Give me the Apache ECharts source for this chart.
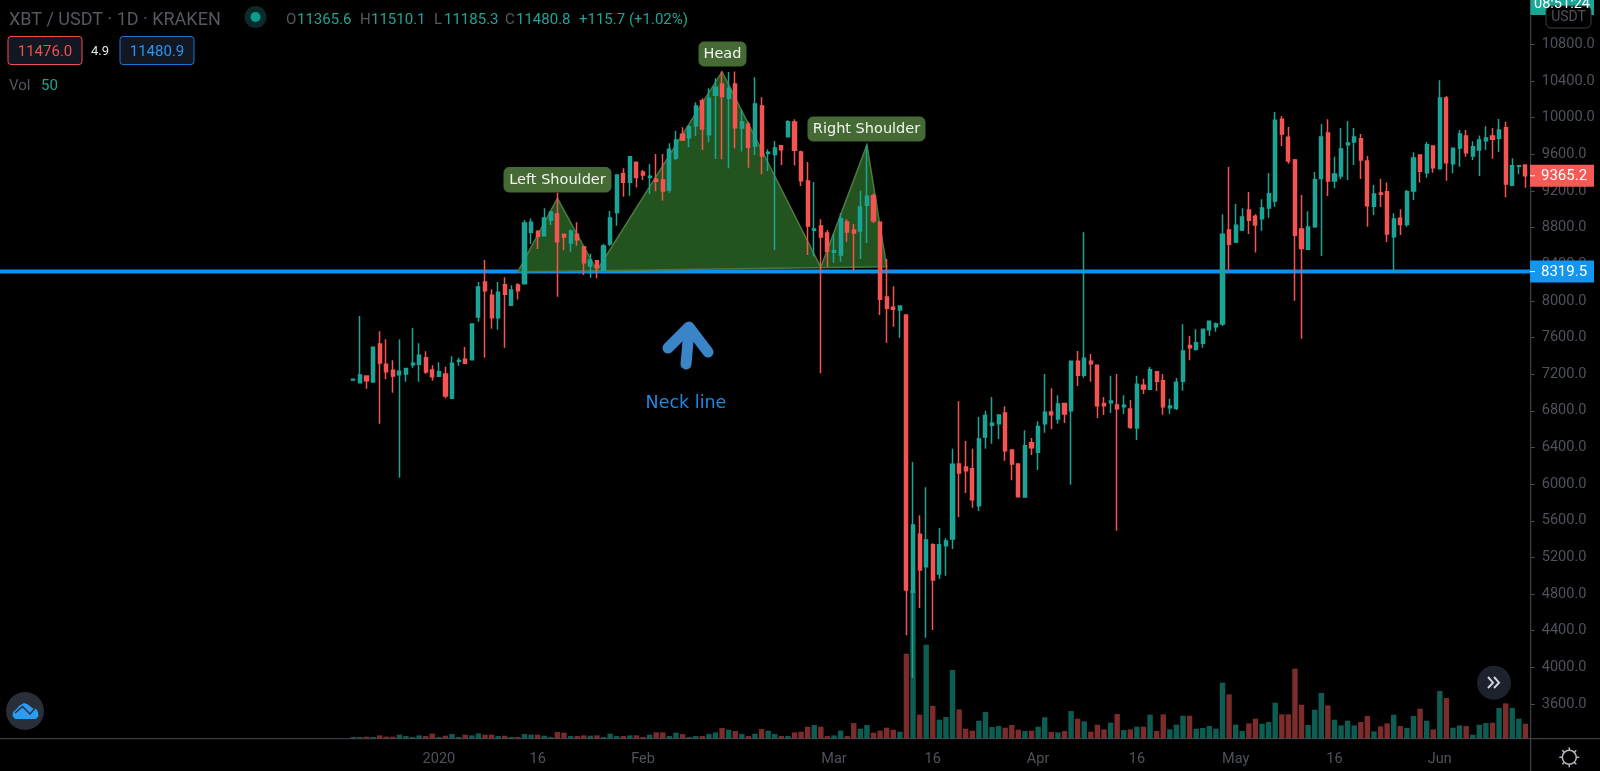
<!DOCTYPE html>
<html>
<head>
<meta charset="utf-8">
<title>XBT / USDT 1D</title>
<style>
html, body { margin: 0; padding: 0; background: #000; }
#main { width: 1600px; height: 771px; }
</style>
<script src="https://cdn.jsdelivr.net/npm/echarts@6/dist/echarts.min.js"></script>
</head>
<body>
<div id="main"></div>
<script>
// daily candles, first one is 2019-12-19
var firstDay = '2019-12-19';
var opens = [7135,7107,7180,7114,7529,7307,7242,7194,7202,7303,7307,7380,7245,7176,7202,6936,7340,7362,7358,7824,
  8206,8060,7816,8177,7951,8173,8187,8748,8759,8711,8882,8948,8726,8631,8726,8591,8380,8438,8330,8621,
  8963,9388,9294,9512,9407,9345,9327,9319,9210,9556,9818,9781,9912,10185,9814,10243,10367,10211,10367,9887,
  9927,9690,10127,9607,9596,9694,9792,9952,9625,9308,8770,8817,8741,8530,8501,8861,8774,8763,9043,9148,
  8857,8042,7929,7900,7846,4819,5452,5099,5339,5019,5328,5401,6219,6187,6168,5765,6514,6641,6659,6776,
  6372,6219,5859,6452,6347,6660,6787,6710,6881,6801,7340,7187,7340,7296,6881,6889,6863,6845,6820,6612,
  7078,7034,7227,7129,6834,6827,7122,7514,7471,7536,7685,7718,7747,8773,8642,8773,8992,8922,8897,9013,
  9090,9981,9785,9537,8784,8562,8810,9334,9832,9308,9363,9705,9734,9770,9526,9032,9177,9192,8700,8901,
  8832,9199,9592,9399,9690,9443,10214,9497,9668,9799,9581,9646,9748,9799,9774,9890,9261,9468,9483];
var closes = [7145,7191,7129,7493,7322,7227,7180,7231,7263,7318,7405,7223,7172,7227,6961,7318,7350,7318,7747,8151,
  8111,7816,8093,8071,8118,8111,8850,8857,8704,8904,8970,8646,8697,8762,8668,8417,8446,8362,8599,8905,
  9374,9294,9574,9345,9374,9359,9305,9199,9654,9756,9756,9901,10127,9876,10211,10331,10229,10320,9890,9952,
  9676,10149,9581,9621,9669,9650,9956,9643,9312,8817,8785,8697,8541,8548,8897,8752,8741,9025,9141,8875,
  8017,7919,7907,7944,4844,5554,5062,5390,4953,5339,5379,6216,6121,6147,5830,6492,6750,6663,6754,6365,
  6219,5863,6419,6398,6630,6783,6758,6874,6765,7340,7187,7373,7314,6856,6856,6907,6823,6860,6620,7089,
  7038,7249,7122,6845,6852,7111,7452,7489,7544,7689,7776,7747,8726,8617,8824,8915,8879,8828,9013,9170,
  9970,9821,9526,8715,8570,8806,9323,9788,9308,9384,9657,9723,9788,9537,9039,9166,9163,8730,8893,8832,
  9192,9559,9414,9705,9453,10214,9508,9665,9821,9617,9683,9756,9777,9763,9865,9275,9475,9475,9365.2];
var highs = [7150,7835,7185,7495,7667,7580,7351,7580,7268,7704,7536,7449,7296,7329,7282,7394,7380,7496,7750,8206,
  8446,8126,8206,8257,8169,8191,8882,8900,8770,9010,8975,9181,8730,8780,8857,8598,8518,8446,8621,8981,
  9380,9447,9580,9515,9428,9490,9603,9603,9720,9854,9894,9920,10167,10211,10320,10429,10502,10498,10502,10083,
  9956,10440,10222,9654,9745,9700,9970,9981,9639,9516,9297,8890,8774,8730,8955,8890,8839,9203,9701,9174,
  8860,8457,8158,7950,7848,6241,5659,5965,5354,5521,5408,6387,6903,6470,6387,6732,6801,6951,6758,6849,
  6375,6222,6587,6503,6685,7202,7045,6969,6885,7345,7453,8748,7420,7300,6951,7183,7202,6969,6918,7183,
  7151,7278,7235,7202,6932,7158,7744,7616,7689,7693,7780,7765,8944,9461,9057,9010,9188,8944,9108,9395,
  10061,10017,9897,9548,9155,8977,9406,9930,9981,9574,9886,9963,9886,9821,9581,9264,9330,9293,8955,9000,
  9210,9621,9600,9734,9693,10407,10236,9672,9865,9865,9741,9806,9905,9886,9985,9956,9555,9478,9486];
var lows = [7130,7100,7041,7110,6660,7143,6998,6070,7118,7271,7118,7205,7129,7172,6936,6930,7292,7315,7355,7773,
  7380,7696,7685,7489,7944,8016,8185,8620,8566,8705,8828,8046,8551,8537,8602,8282,8253,8246,8325,8600,
  8821,9137,9148,9236,9319,9166,9196,9094,9181,9538,9745,9676,9800,9647,9730,9548,9545,9447,9665,9629,
  9454,9592,9381,9418,8555,9483,9788,9476,9254,8501,8483,7209,8370,8417,8428,8646,8330,8457,8632,8850,
  7846,7544,7718,7598,4349,3884,4648,4324,4408,4964,5001,5292,5641,5903,5743,5706,6387,6441,6492,6256,
  6041,5860,5857,6318,6154,6561,6601,6660,6667,5994,7071,7162,7118,6721,6754,6776,5492,6765,6601,6481,
  6983,7030,7016,6758,6765,6809,7020,7351,7456,7489,7620,7664,7725,8337,8631,8762,8730,8529,8766,8908,
  9028,9690,9497,8002,7587,8558,8799,8489,9144,9228,9326,9319,9483,9330,8810,8937,9024,8642,8308,8719,
  8810,9101,9293,9344,9399,9440,9312,9392,9464,9574,9537,9363,9646,9552,9625,9130,9258,9381,9235];
var volumes = [5,5,6,5,10,6,6,12,8,5,10,8,15,5,9,14,5,12,10,16,
  12,12,8,9,5,5,14,12,12,9,5,20,18,8,8,10,9,10,5,15,
  8,8,10,10,5,12,19,19,8,18,14,5,8,8,14,19,32,27,23,14,
  8,15,29,24,14,8,8,19,21,36,41,36,8,10,24,8,47,30,41,18,
  24,33,27,21,255,445,72,282,99,57,65,206,88,30,24,54,80,35,38,33,
  41,27,23,24,36,64,20,19,23,83,60,52,21,42,28,48,74,26,28,36,
  36,72,23,73,28,42,69,69,30,32,38,30,168,133,42,23,46,60,45,50,
  108,73,73,210,102,41,87,137,100,57,40,54,40,50,68,22,37,46,72,38,
  32,68,90,54,28,143,122,33,40,38,12,42,47,48,92,106,92,60,45];

var priceTicks = [10800,10400,10000,9600,9200,8800,8400,8000,7600,7200,6800,6400,6000,5600,5200,4800,4400,4000,3600];
var dateTicks = ['2020-01-01','2020-01-16','2020-02-01','2020-03-01','2020-03-16','2020-04-01','2020-04-16','2020-05-01','2020-05-16','2020-06-01'];
var dateTickLabels = ['2020','16','Feb','Mar','16','Apr','16','May','16','Jun'];

// head and shoulders outline: candle number, price
var patternCandle = [25,31,37,56,71,78,81];
var patternPrice = [8318,9119,8331,10501,8366,9701,8373];
var neckPrice = 8319.5;
var lastPrice = 9365.2;

var UP = '#1ba597', DOWN = '#f45552';
var AXIS_TXT = '#4f525b', LINE = '#4a4d55';
var FONT = 'Roboto, sans-serif';
var NOTE_FONT = '"DejaVu Sans", sans-serif';

var LEAD = 54, BANDS = 234;   // empty days left of the first candle and total days on screen
var categories = [];
var start = Date.parse(firstDay + 'T00:00:00Z');
for (var k = 0; k < BANDS; k++) {
    categories.push(new Date(start + (k - LEAD) * 86400000).toISOString().slice(0, 10));
}

var candleData = [], volumeData = [];
for (var i = 0; i < opens.length; i++) {
    candleData.push([i + LEAD, opens[i], closes[i], lows[i], highs[i]]);
    volumeData.push({
        value: [i + LEAD, volumes[i]],
        itemStyle: {color: closes[i] > opens[i] ? '#0e5d52' : '#7d2c2c'}
    });
}

function renderPattern(params, api) {
    var pts = [];
    for (var n = 0; n < patternCandle.length; n++) {
        pts.push(api.coord([patternCandle[n] + LEAD, patternPrice[n]]));
    }
    return {
        type: 'polygon',
        shape: {points: pts},
        style: {fill: '#23541f', stroke: '#4b7a3c', lineWidth: 1.5}
    };
}

function renderNeck(params, api) {
    var y = api.coord([0, api.value(0)])[1];
    return {
        type: 'line',
        shape: {x1: 0, y1: y, x2: 1531, y2: y},
        style: {stroke: '#0f8fee', lineWidth: 4}
    };
}

function renderTag(params, api) {
    var price = api.value(0);
    var y = api.coord([0, price])[1];
    return {
        type: 'group',
        children: [
            {type: 'rect', shape: {x: 1530, y: y - 11, width: 64, height: 22}, style: {fill: price === lastPrice ? '#f45a56' : '#1296f0'}},
            {type: 'rect', shape: {x: 1530, y: y - 0.5, width: 5, height: 1}, style: {fill: '#fff'}},
            {type: 'text', style: {x: 1541, y: y + 0.5, text: price.toFixed(1), fill: '#fff', font: '15px ' + FONT, textVerticalAlign: 'middle'}}
        ]
    };
}

function txt(x, y, text, fill, size, align, family) {
    return {
        type: 'text', z: 50,
        style: {x: x, y: y, text: text, fill: fill, font: size + 'px ' + (family || FONT), textVerticalAlign: 'middle', textAlign: align || 'left'}
    };
}

function box(x, y, w, h, fill, stroke, r) {
    return {
        type: 'rect', z: 49,
        shape: {x: x, y: y, width: w, height: h, r: r},
        style: {fill: fill, stroke: stroke, lineWidth: 1}
    };
}

var noteFill = '#456a35';
var extras = [
    // header
    txt(9, 20, 'XBT / USDT · 1D · KRAKEN', '#55585f', 18),
    {type: 'circle', z: 49, shape: {cx: 255.5, cy: 17, r: 11}, style: {fill: '#0b2b2a'}},
    {type: 'circle', z: 50, shape: {cx: 255.5, cy: 17, r: 5}, style: {fill: '#089c8a'}},
    txt(286, 20, 'O', '#55585f', 15), txt(297, 20, '11365.6', '#1ba597', 15),
    txt(360, 20, 'H', '#55585f', 15), txt(371, 20, '11510.1', '#1ba597', 15),
    txt(434, 20, 'L', '#55585f', 15), txt(444, 20, '11185.3', '#1ba597', 15),
    txt(505, 20, 'C', '#55585f', 15), txt(516, 20, '11480.8', '#1ba597', 15),
    txt(579, 20, '+115.7 (+1.02%)', '#1ba597', 15),
    box(8, 36.5, 74, 28, '#131722', '#f0504d', 3),
    txt(45, 52, '11476.0', '#f0504d', 15, 'center'),
    txt(100, 52, '4.9', '#e6e6e6', 13, 'center'),
    box(120, 36.5, 74, 28, '#131722', '#1976d2', 3),
    txt(157, 52, '11480.9', '#2196f3', 15, 'center'),
    txt(9, 86, 'Vol', '#55585f', 15),
    txt(41, 86, '50', '#1ba597', 15),
    // notes on the chart
    box(504, 167.5, 107, 24.5, noteFill, noteFill, 5), txt(557.5, 180, 'Left Shoulder', '#f2f5ee', 14.5, 'center', NOTE_FONT),
    box(699, 42, 47, 24, noteFill, noteFill, 5), txt(722.5, 54, 'Head', '#f2f5ee', 14.5, 'center', NOTE_FONT),
    box(808, 117, 117, 24, noteFill, noteFill, 5), txt(866.5, 129, 'Right Shoulder', '#f2f5ee', 14.5, 'center', NOTE_FONT),
    txt(686, 403, 'Neck line', '#1e88e5', 17.5, 'center', NOTE_FONT),
    {type: 'polyline', z: 49, shape: {points: [[668, 348], [689, 327], [708, 352]]}, style: {fill: 'none', stroke: '#3a85c8', lineWidth: 11, lineCap: 'round', lineJoin: 'round'}},
    {type: 'line', z: 49, shape: {x1: 689, y1: 330, x2: 686, y2: 364}, style: {stroke: '#3a85c8', lineWidth: 11, lineCap: 'round'}},
    // frame of the price pane
    {type: 'line', z: 40, shape: {x1: 1530.7, y1: 0, x2: 1530.7, y2: 771}, style: {stroke: LINE, lineWidth: 1}},
    {type: 'line', z: 40, shape: {x1: 0, y1: 738.7, x2: 1600, y2: 738.7}, style: {stroke: LINE, lineWidth: 1}},
    // top right corner
    {type: 'rect', z: 45, shape: {x: 1530.5, y: 0, width: 63.5, height: 15}, style: {fill: '#1ba597'}},
    txt(1562, 4, '08:51:24', '#fff', 14.5, 'center'),
    box(1546, 6, 45, 22, '#000', '#3a3d45', 5),
    txt(1568.5, 17, 'USDT', AXIS_TXT, 14, 'center'),
    // scroll button
    {type: 'circle', z: 49, shape: {cx: 1494, cy: 682.7, r: 17}, style: {fill: '#1e222d'}},
    {type: 'polyline', z: 50, shape: {points: [[1488, 677], [1493, 682.7], [1488, 688]]}, style: {fill: 'none', stroke: '#d1d4dc', lineWidth: 2}},
    {type: 'polyline', z: 50, shape: {points: [[1494, 677], [1499, 682.7], [1494, 688]]}, style: {fill: 'none', stroke: '#d1d4dc', lineWidth: 2}},
    // logo
    {type: 'circle', z: 49, shape: {cx: 25, cy: 711, r: 19}, style: {fill: '#2a2e39'}},
    {type: 'polygon', z: 50, shape: {points: [[15, 719], [12.5, 716], [13, 712], [16, 709.5], [19, 706], [24, 703], [28, 704.5], [33, 708.5], [35.5, 708], [38, 712], [38.5, 716], [36, 719]]}, style: {fill: '#2a9df0'}},
    {type: 'polyline', z: 51, shape: {points: [[15, 713], [22.5, 706.5], [30, 714], [37, 706]]}, style: {fill: 'none', stroke: '#2a2e39', lineWidth: 1.5}},
    // settings
    {type: 'circle', z: 50, shape: {cx: 1569.3, cy: 757.3, r: 7}, style: {fill: 'none', stroke: '#b2b5be', lineWidth: 1.5}}
];
var rays = [[0, -1], [0, 1], [-1, 0], [1, 0], [-0.7, -0.7], [0.7, 0.7], [-0.7, 0.7], [0.7, -0.7]];
rays.forEach(function (r) {
    extras.push({
        type: 'line', z: 50,
        shape: {x1: 1569.3 + r[0] * 7, y1: 757.3 + r[1] * 7, x2: 1569.3 + r[0] * 10, y2: 757.3 + r[1] * 10},
        style: {stroke: '#b2b5be', lineWidth: 1.5}
    });
});

var chart = echarts.init(document.getElementById('main'), null, {renderer: 'canvas'});
chart.setOption({
    animation: false,
    backgroundColor: '#000',
    grid: [
        {left: -5.6, width: 1540.9, top: 7.65, height: 733, outerBoundsMode: 'none'},
        {left: -5.6, width: 1540.9, top: 588.7, height: 150, outerBoundsMode: 'none'}
    ],
    xAxis: [
        {type: 'category', gridIndex: 0, data: categories, show: false},
        {
            type: 'category', gridIndex: 1, data: categories,
            axisLine: {show: false},
            axisTick: {
                alignWithLabel: true, length: 4, lineStyle: {color: LINE},
                interval: function (idx, val) { return dateTicks.indexOf(val) >= 0; }
            },
            axisLabel: {
                color: AXIS_TXT, fontFamily: FONT, fontSize: 14.5, margin: 13,
                interval: function (idx, val) { return dateTicks.indexOf(val) >= 0; },
                formatter: function (val) { return dateTickLabels[dateTicks.indexOf(val)]; }
            },
            splitLine: {show: false}
        }
    ],
    yAxis: [
        {
            type: 'value', gridIndex: 0, position: 'right', offset: -4.6,
            min: 3200, max: 11200, interval: 400,
            axisLine: {show: false},
            axisTick: {show: true, length: 4, lineStyle: {color: LINE}},
            splitLine: {show: false},
            axisLabel: {
                color: AXIS_TXT, fontFamily: FONT, fontSize: 14.6, margin: 11, align: 'left',
                padding: [6, 0, 0, 0],
                showMinLabel: false, showMaxLabel: false,
                formatter: function (v) { return priceTicks.indexOf(v) >= 0 ? v.toFixed(1) : ''; }
            }
        },
        {type: 'value', gridIndex: 1, min: 0, max: 450, show: false}
    ],
    graphic: extras,
    series: [
        {
            name: 'Vol', type: 'bar', xAxisIndex: 1, yAxisIndex: 1, z: 1,
            barWidth: 5.4, data: volumeData, encode: {x: 0, y: 1}
        },
        {
            name: 'Neck line', type: 'custom', xAxisIndex: 0, yAxisIndex: 0, z: 2, silent: true,
            renderItem: renderNeck, data: [[neckPrice]], encode: {y: 0}, clip: false
        },
        {
            name: 'Pattern', type: 'custom', xAxisIndex: 0, yAxisIndex: 0, z: 3, silent: true,
            renderItem: renderPattern, data: [[neckPrice]], encode: {y: 0}, clip: false
        },
        {
            name: 'XBT / USDT', type: 'candlestick', xAxisIndex: 0, yAxisIndex: 0, z: 4,
            barWidth: 3.6,
            encode: {x: 0, y: [1, 2, 3, 4]},
            itemStyle: {color: UP, color0: DOWN, borderColor: UP, borderColor0: DOWN, borderWidth: 1.5},
            data: candleData
        },
        {
            name: 'Tags', type: 'custom', xAxisIndex: 0, yAxisIndex: 0, z: 60, silent: true,
            renderItem: renderTag, data: [[lastPrice], [neckPrice]], encode: {y: 0}, clip: false
        }
    ]
});
</script>
</body>
</html>
